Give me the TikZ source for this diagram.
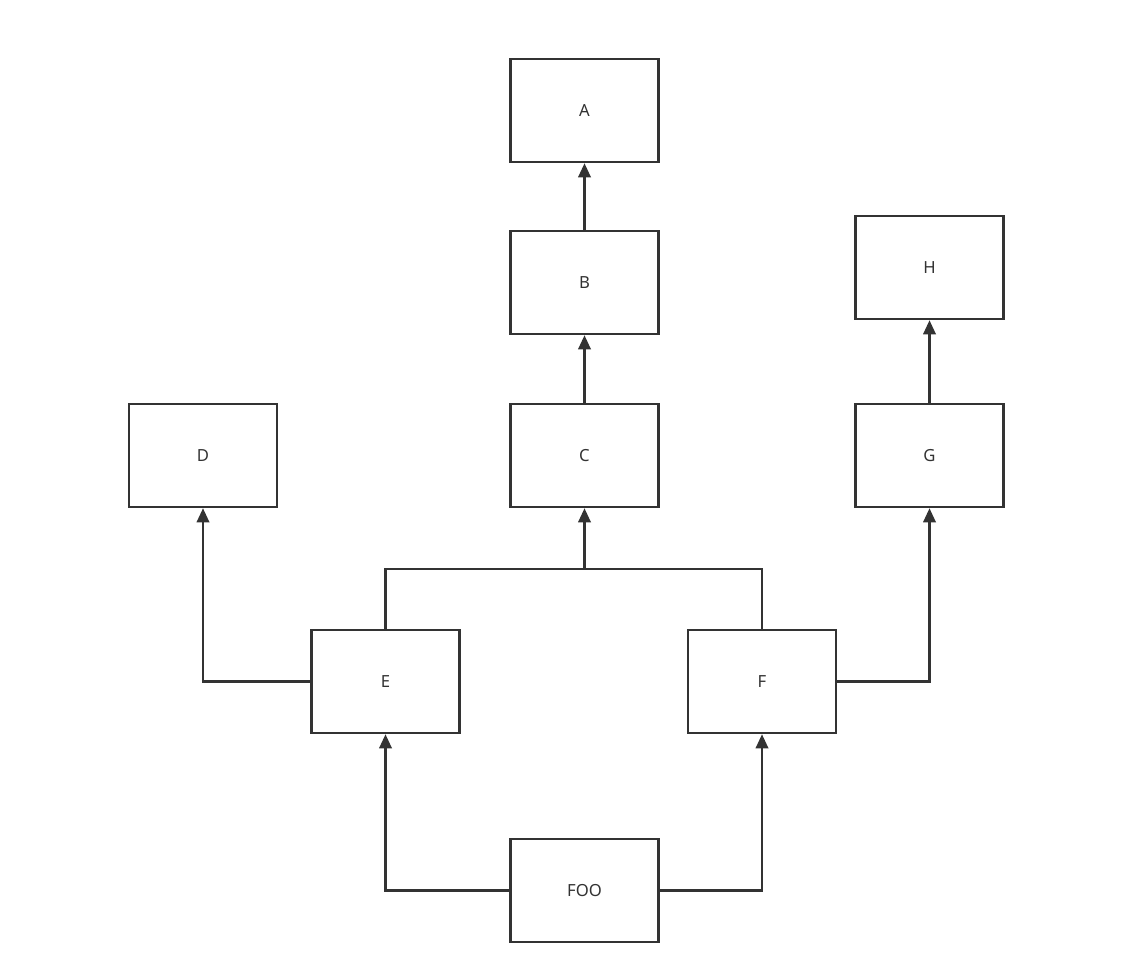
\documentclass[tikz,border=0pt]{standalone}
\usepackage{fontspec}
\setmainfont{Noto Sans}
\usetikzlibrary{arrows.meta}
\definecolor{linegray}{HTML}{333333}
\begin{document}
\begin{tikzpicture}[x=0.02cm,y=-0.02cm,
  every node/.style={draw=linegray,line width=1.4pt,minimum width=2.96cm,minimum height=2.06cm,font=\fontsize{9.5}{11}\selectfont,text=linegray},
  link/.style={draw=linegray,line width=1.4pt},
  arr/.style={link,-{Triangle[length=8pt,width=7pt]}}]
\useasboundingbox (0,0) rectangle (1136,979);
% boxes
\node (A) at (584.5,110.5) {A};
\node (B) at (584.5,282.5) {B};
\node (C) at (584.5,455.5) {C};
\node (D) at (203,455.5) {D};
\node (G) at (929.5,455.5) {G};
\node (H) at (929.5,267.5) {H};
\node (E) at (385.5,681.5) {E};
\node (F) at (762,681.5) {F};
\node (foo) at (584.5,890.5) {FOO};
\coordinate (join) at (584.5,569);
% connectors
\draw[arr] (B) -- (A);
\draw[arr] (C) -- (B);
\draw[arr] (G) -- (H);
\draw[link] (E.north) |- (join) -| (F.north);
\draw[arr] (join) -- (C);
\draw[arr] (E.west) -| (D.south);
\draw[arr] (F.east) -| (G.south);
\draw[arr] (foo.west) -| (E.south);
\draw[arr] (foo.east) -| (F.south);
\end{tikzpicture}
\end{document}
